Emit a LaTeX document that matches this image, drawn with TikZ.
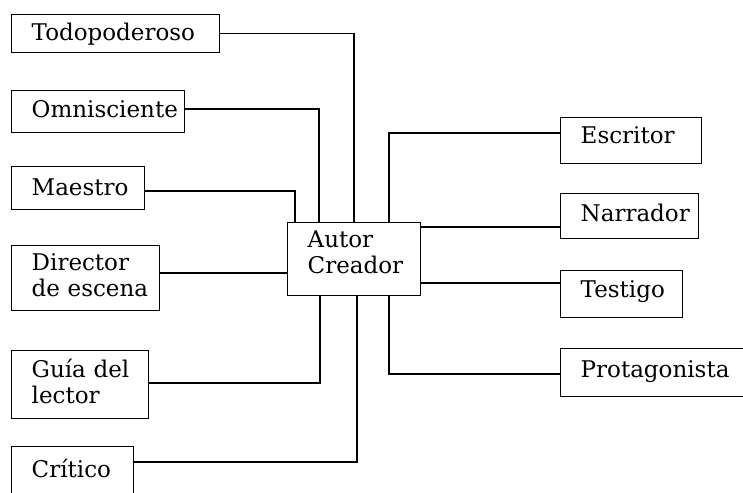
\documentclass[tikz,border=0pt]{standalone}
\usepackage{fontspec}
\setmainfont{DejaVu Serif}
\hyphenpenalty=10000
\exhyphenpenalty=10000
\begin{document}
\begin{tikzpicture}[x=1pt,y=-1pt,
  bx/.style={draw,line width=1.4pt,anchor=north west,inner xsep=20pt,inner ysep=0pt,align=left,
    text height=18pt,font=\fontsize{23}{26}\selectfont},
  ln/.style={line width=1.4pt}]
\useasboundingbox (0,0) rectangle (743,492);
\clip (0,0) rectangle (743,492);
\node[bx,text width=168pt,minimum height=38pt,text depth=4pt] (todo) at (11,14) {Todopoderoso};
\node[bx,text width=133pt,minimum height=42pt,text depth=6pt] (omni) at (11,90) {Omnisciente};
\node[bx,text width=93pt,minimum height=43pt,text depth=3pt] (maes) at (11,166) {Maestro};
\node[bx,text width=108pt,minimum height=65pt,text depth=33pt] (dir) at (11,245) {Director\\de~escena};
\node[bx,text width=97pt,minimum height=68pt,text depth=32pt] (guia) at (11,350) {Guía~del\\lector};
\node[bx,text width=82pt,minimum height=54pt,text depth=10pt] (crit) at (11,446) {Crítico};
\node[bx,text width=93pt,minimum height=73pt,text depth=41pt] (autor) at (287,222) {Autor\\Creador};
\node[bx,text width=101pt,minimum height=46pt,text depth=12pt] (escr) at (560,117) {Escritor};
\node[bx,text width=98pt,minimum height=45pt,text depth=7pt] (narr) at (560,193) {Narrador};
\node[bx,text width=82pt,minimum height=47pt,text depth=11pt] (test) at (560,270) {Testigo};
\node[bx,text width=160pt,minimum height=48pt,text depth=8pt] (prot) at (560,348) {Protagonista};
\draw[ln] (todo.east) -| (354,0 |- autor.north);
\draw[ln] (omni.east |- 0,109) -| (319,0 |- autor.north);
\draw[ln] (maes.east |- 0,191) -| (295,0 |- autor.north);
\draw[ln] (dir.east |- 0,273) -- (autor.west |- 0,273);
\draw[ln] (guia.east |- 0,383) -| (320,0 |- autor.south);
\draw[ln] (crit.east |- 0,462) -| (357,0 |- autor.south);
\draw[ln] (escr.west |- 0,133) -| (389,0 |- autor.north);
\draw[ln] (autor.east |- 0,227) -- (narr.west |- 0,227);
\draw[ln] (autor.east |- 0,283) -- (test.west |- 0,283);
\draw[ln] (prot.west |- 0,374) -| (389,0 |- autor.south);
\end{tikzpicture}
\end{document}
